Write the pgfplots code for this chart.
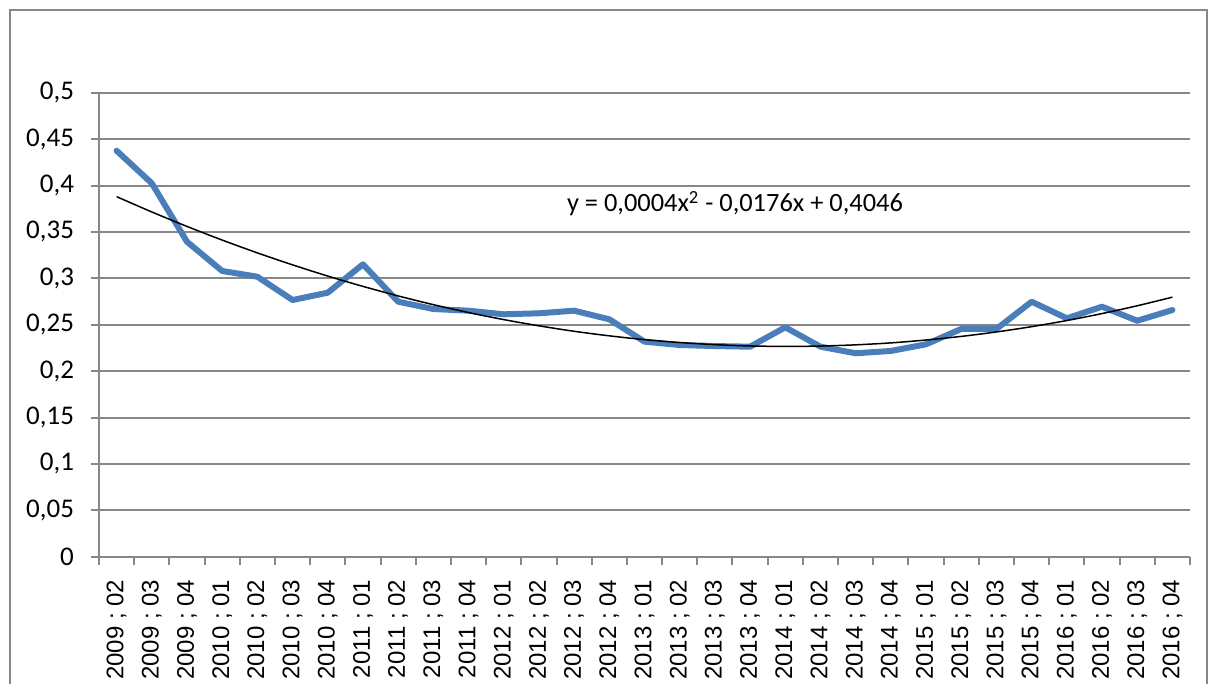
\documentclass[border=0pt]{standalone}
\usepackage{fontspec}
\setmainfont{Carlito}
\newfontfamily\arialfont{Liberation Sans}
\usepackage{pgfplots}
\pgfplotsset{compat=1.18}
\usepackage{pgfplotstable}

\definecolor{seriesblue}{HTML}{4A7EBB}
\definecolor{gridgray}{HTML}{878787}

\pgfplotstableread{
x  y       trend
1  0.4375  0.3880
2  0.4024  0.3715
3  0.3394  0.3559
4  0.3079  0.3412
5  0.3017  0.3274
6  0.2766  0.3145
7  0.2845  0.3024
8  0.3151  0.2913
9  0.2748  0.2810
10 0.2669  0.2716
11 0.2651  0.2631
12 0.2612  0.2555
13 0.2623  0.2488
14 0.2651  0.2429
15 0.2558  0.2380
16 0.2317  0.2339
17 0.2281  0.2308
18 0.2270  0.2285
19 0.2263  0.2271
20 0.2472  0.2266
21 0.2263  0.2270
22 0.2192  0.2283
23 0.2217  0.2304
24 0.2289  0.2335
25 0.2454  0.2374
26 0.2454  0.2422
27 0.2748  0.2479
28 0.2569  0.2545
29 0.2694  0.2620
30 0.2543  0.2704
31 0.2658  0.2797
}\datatable

\begin{document}
\begin{tikzpicture}
% page = reference picture, 0.5pt per pixel
\useasboundingbox (-49.5pt,-63.65pt) rectangle (555pt,278.35pt);
\draw[gridgray, line width=1pt] (-44.5pt,-90pt) rectangle (554pt,273.35pt);
\begin{axis}[
  at={(0pt,0pt)}, anchor=origin,
  scale only axis,
  width=545.5pt, height=232pt,
  xmin=0.5, xmax=31.5,
  ymin=0, ymax=0.5,
  axis x line=bottom, axis y line=left,
  axis line style={-, gridgray, line width=1pt},
  ytick={0,0.05,0.1,0.15,0.2,0.25,0.3,0.35,0.4,0.45,0.5},
  yticklabels={0,{0,05},{0,1},{0,15},{0,2},{0,25},{0,3},{0,35},{0,4},{0,45},{0,5}},
  ymajorgrids=true,
  grid style={gridgray, line width=1pt},
  tick align=outside,
  major tick length=4pt,
  minor tick length=4pt,
  tick style={gridgray, line width=1pt},
  major x tick style={draw=none},
  xtick={1,...,31},
  minor xtick={0.5,1.5,...,31.5},
  xticklabels={2009 ; 02,2009 ; 03,2009 ; 04,
    2010 ; 01,2010 ; 02,2010 ; 03,2010 ; 04,
    2011 ; 01,2011 ; 02,2011 ; 03,2011 ; 04,
    2012 ; 01,2012 ; 02,2012 ; 03,2012 ; 04,
    2013 ; 01,2013 ; 02,2013 ; 03,2013 ; 04,
    2014 ; 01,2014 ; 02,2014 ; 03,2014 ; 04,
    2015 ; 01,2015 ; 02,2015 ; 03,2015 ; 04,
    2016 ; 01,2016 ; 02,2016 ; 03,2016 ; 04},
  xticklabel style={rotate=90, anchor=east, font=\arialfont\fontsize{12}{14}\selectfont, text=black},
  xticklabel shift=4pt,
  yticklabel style={font=\fontsize{13.5}{15}\selectfont, text=black, xshift=-5pt},
]
\addplot[seriesblue, line width=3pt, line join=round, line cap=round] table[x=x, y=y] {\datatable};
\addplot[black, line width=0.75pt, smooth] table[x=x, y=trend] {\datatable};
\node[font=\fontsize{13.2}{15}\selectfont] at (axis cs:18.57,0.3806)
  {y = 0,0004x\textsuperscript{2} - 0,0176x + 0,4046};
\end{axis}
\end{tikzpicture}
\end{document}
